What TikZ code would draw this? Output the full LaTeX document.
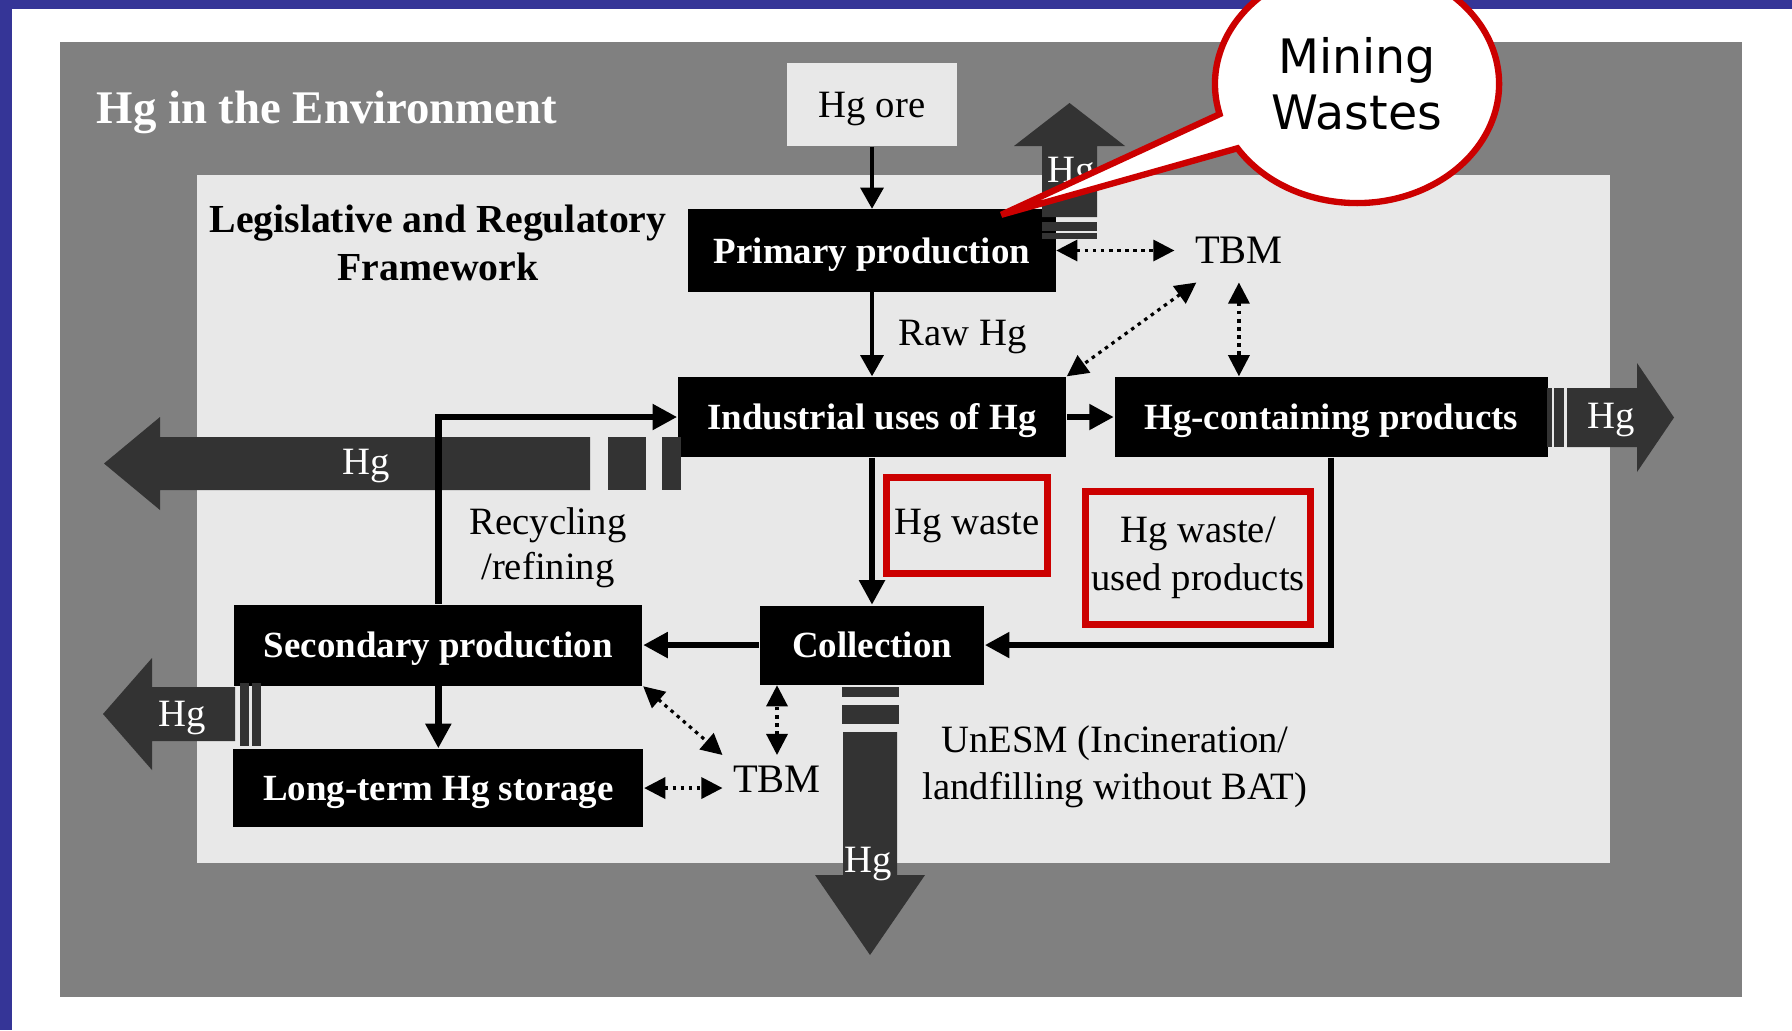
\documentclass[tikz,border=0pt]{standalone}
\usepackage{fontspec}
\setmainfont{Liberation Serif}
\newfontfamily\calloutfont{DejaVu Sans}
\usepackage{xcolor}
\usepackage{tikz}
\usetikzlibrary{positioning, arrows.meta, shapes.callouts}

\definecolor{slideblue}{HTML}{353597}
\definecolor{envgray}{HTML}{808080}
\definecolor{framegray}{HTML}{E8E8E8}
\definecolor{hgdark}{HTML}{333333}
\definecolor{wastered}{HTML}{CC0000}

\begin{document}
\begin{tikzpicture}[
    x=0.01cm, y=0.01cm,
    node distance=1cm,
    blackbox/.style={rectangle, fill=black, text=white, inner sep=0, font=\bfseries\fontsize{10.5}{12}\selectfont, text height=7.2pt, text depth=0pt},
    orebox/.style={rectangle, fill=framegray, inner sep=0, minimum width=1.69cm, minimum height=0.83cm, font=\fontsize{11}{13}\selectfont, text height=7.5pt, text depth=0pt},
    wastebox/.style={rectangle, draw=wastered, line width=2pt, fill=framegray, align=center, inner sep=0, font=\fontsize{11}{13.5}\selectfont},
    tbm/.style={inner sep=0.1cm, font=\fontsize{11.5}{13}\selectfont},
    lbl/.style={inner sep=0, font=\fontsize{11}{13.4}\selectfont},
    hglbl/.style={inner sep=0, text=white, font=\fontsize{11}{13}\selectfont},
    flow/.style={-{Triangle[length=7pt, width=7pt]}, line width=1.8pt},
    thinflow/.style={-{Triangle[length=6pt, width=6.5pt]}, line width=1pt},
    tbmlink/.style={{Triangle[length=6pt, width=6pt]}-{Triangle[length=6pt, width=6pt]}, dash pattern=on 1pt off 1.3pt, line width=0.9pt},
    fatarrow/.style={fill=hgdark},
    bubble/.style={ellipse callout, draw=wastered, fill=white, line width=1.8pt, minimum width=2.84cm, minimum height=2.38cm, align=center, inner sep=0, callout pointer arc=18, font=\calloutfont\fontsize{13.5}{16}\selectfont}
]

% Page and background panels
\useasboundingbox (0,0) rectangle (1792,-1030);
\clip (0,0) rectangle (1792,-1030);
\fill[white] (0,0) rectangle (1792,-1030);
\fill[slideblue] (0,0) rectangle (1792,-9);
\fill[slideblue] (0,0) rectangle (12,-1030);
\fill[envgray] (60,-42) rectangle (1742,-997);
\fill[framegray] (197,-175) rectangle (1610,-863);

% Titles
\node[anchor=base west, inner sep=0, text=white, font=\bfseries\fontsize{13.3}{15}\selectfont] (envtitle) at (96,-123) {Hg in the Environment};
\node[anchor=north, inner sep=0, align=center, font=\bfseries\fontsize{11.3}{13.7}\selectfont] (lawtitle) at (438,-204) {Legislative and Regulatory\\Framework};

% Main process boxes
\node[blackbox, minimum width=3.88cm, minimum height=0.80cm] (ind) at (872,-417) {Industrial uses of Hg};
\node[blackbox, minimum width=3.67cm, minimum height=0.82cm, above=0.84cm of ind] (prim) {Primary production};
\node[orebox, above=0.62cm of prim] (ore) {Hg ore};
\node[blackbox, minimum width=4.33cm, minimum height=0.80cm, right=0.47cm of ind] (prod) {Hg-containing products};
\node[blackbox, minimum width=2.24cm, minimum height=0.79cm, below=1.47cm of ind] (coll) {Collection};
\node[blackbox, minimum width=4.08cm, minimum height=0.81cm, left=1.16cm of coll] (sec) {Secondary production};
\node[blackbox, minimum width=4.10cm, minimum height=0.78cm, below=0.62cm of sec] (store) {Long-term Hg storage};

% TBM nodes
\node[tbm, right=1.28cm of prim] (tbmA) {TBM};
\node[tbm] (tbmB) at (777,-779) {TBM};

% Hg releases
\fill[fatarrow] (590,-437) -- (160,-437) -- (160,-417) -- (104,-463.5) -- (160,-510) -- (160,-490) -- (590,-490) -- cycle;
\fill[fatarrow] (608,-437) rectangle (646,-490);
\fill[fatarrow] (662,-437) rectangle (681,-490);
\node[hglbl] (hgleft) at (366,-466) {Hg};

\fill[fatarrow] (1547,-388) rectangle (1552,-447);
\fill[fatarrow] (1554,-388) rectangle (1564,-447);
\fill[fatarrow] (1567,-388) -- (1637,-388) -- (1637,-363) -- (1674,-417.5) -- (1637,-472) -- (1637,-447) -- (1567,-447) -- cycle;
\node[hglbl] (hgright) at (1611,-420) {Hg};

\fill[fatarrow] (1042,-217) -- (1042,-146) -- (1014,-146) -- (1069.5,-103) -- (1125,-146) -- (1097,-146) -- (1097,-217) -- cycle;
\fill[fatarrow] (1042,-222) rectangle (1097,-231);
\fill[fatarrow] (1042,-233) rectangle (1097,-239);
\node[hglbl] (hgtop) at (1071,-174) {Hg};

\fill[fatarrow] (235,-687) -- (152,-687) -- (152,-658) -- (103,-714) -- (152,-770) -- (152,-741) -- (235,-741) -- cycle;
\fill[fatarrow] (240,-683) rectangle (249,-746);
\fill[fatarrow] (252,-683) rectangle (261,-746);
\node[hglbl] (hglow) at (182,-718) {Hg};

\fill[fatarrow] (842,-687) rectangle (899,-697);
\fill[fatarrow] (842,-705) rectangle (899,-724);
\fill[fatarrow] (843,-732) -- (843,-875) -- (815,-875) -- (870,-955) -- (925,-875) -- (897,-875) -- (897,-732) -- cycle;
\node[hglbl] (hgdown) at (868,-864) {Hg};

% Flows
\draw[thinflow] (ore) -- (prim);
\draw[thinflow] (prim) -- node[lbl, right=0.25cm, yshift=-0.03cm] {Raw Hg} (ind);
\draw[flow] (ind) -- (prod);
\draw[flow] (ind) -- (coll);
\draw[flow] (prod.south) |- (coll.east);
\draw[flow] (coll) -- (sec);
\draw[flow] (sec) -- (store);
\draw[flow] (sec.north) |- node[lbl, pos=0.15, anchor=west, xshift=0.28cm, align=center, font=\fontsize{11}{12.8}\selectfont] {Recycling\\/refining} (ind.west);

% TBM links
\draw[tbmlink] (prim.east) -- ([xshift=-0.1cm]tbmA.west);
\draw[tbmlink] ([xshift=0.12cm, yshift=-0.08cm]tbmA.south west) -- (ind.north east);
\draw[tbmlink] ([yshift=-0.08cm]tbmA.south) -- (tbmA.south |- prod.north);
\draw[tbmlink] (sec.south east) -- (tbmB.north west);
\draw[tbmlink] (tbmB.north) -- (tbmB.north |- coll.south);
\draw[tbmlink] (store.east) -- (store.east -| tbmB.west);

% Waste streams
\node[wastebox, minimum width=1.61cm, minimum height=0.96cm] (waste) at (967,-525.5) {Hg waste};
\node[wastebox, minimum width=2.25cm, minimum height=1.33cm] (usedwaste) at (1198,-558) {Hg waste/\\used products};
\node[lbl, anchor=north, align=center] (unesm) at (1115,-725) {UnESM (Incineration/\\landfilling without BAT)};

% Callout
\node[bubble, callout absolute pointer={([xshift=-0.55cm, yshift=-0.06cm]prim.north east)}] (mining) at (1357,-84) {Mining\\Wastes};

\end{tikzpicture}
\end{document}
